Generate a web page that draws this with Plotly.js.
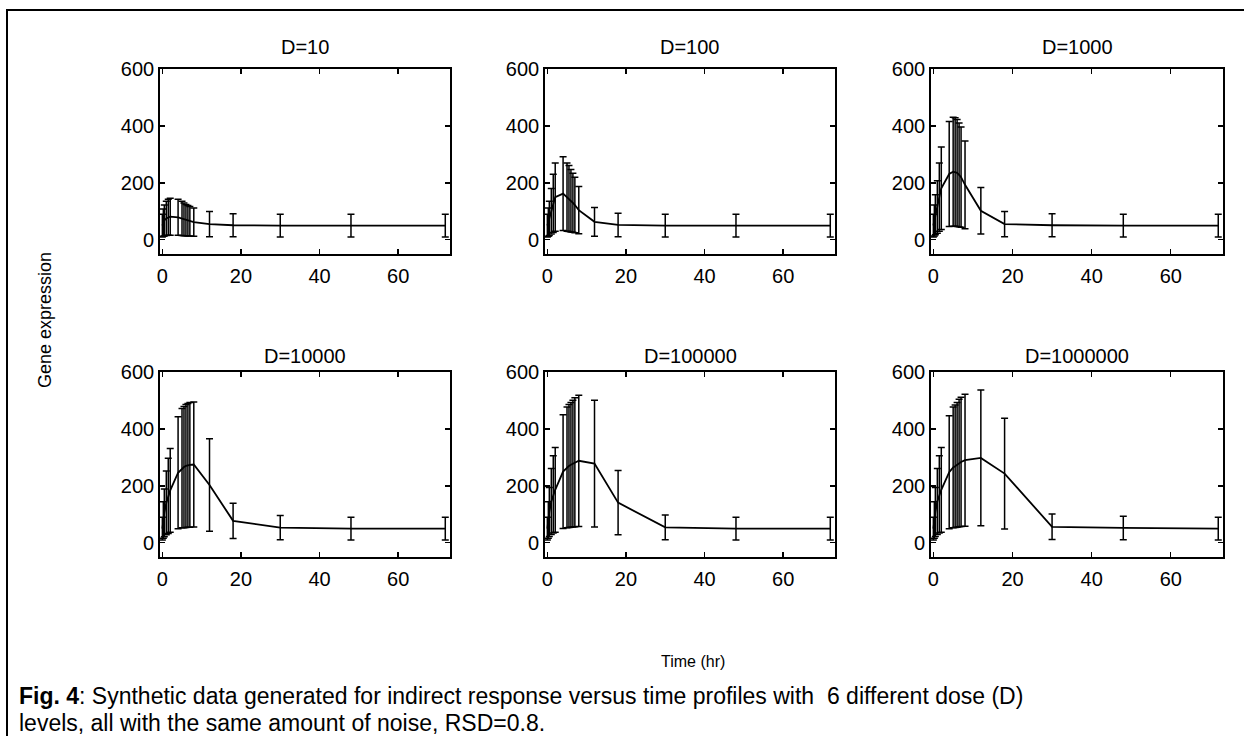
<!DOCTYPE html>
<html>
<head>
<meta charset="utf-8">
<script src="https://cdn.plot.ly/plotly-3.0.1.min.js"></script>
<style>
html,body{margin:0;padding:0;background:#fff;}
#chart{width:1244px;height:736px;}
</style>
</head>
<body>
<div id="chart"></div>
<script>
// Sampling times (hr)
const times = [0, 0.25, 0.5, 1, 1.5, 2, 4, 5, 5.5, 6, 6.5, 7, 8, 12, 18, 30, 48, 72];

// Dose labels
const doses = ["D=10", "D=100", "D=1000", "D=10000", "D=100000", "D=1000000"];

// Mean gene expression per dose
const d10      = [50, 60, 68, 75, 79, 81, 79, 75, 72, 69, 67, 65, 62, 55, 51, 50, 50, 50];
const d100     = [50, 62, 75, 100, 128, 150, 162, 150, 145, 137, 130, 122, 104, 63, 52, 50, 50, 50];
const d1000    = [50, 68, 88, 115, 150, 181, 231, 239, 238, 235, 228, 220, 193, 102, 55, 51, 50, 50];
const d10000   = [50, 80, 105, 140, 165, 184, 246, 262, 266, 270, 272, 274, 275, 203, 77, 53, 50, 50];
const d100000  = [50, 80, 108, 145, 170, 186, 250, 265, 270, 274, 278, 283, 288, 278, 141, 54, 50, 50];
const d1000000 = [50, 80, 108, 145, 170, 186, 248, 265, 269, 274, 280, 284, 290, 298, 243, 56, 52, 50];

// Relative standard deviation (percent) used for the error bars
const rsdPercent = 80;

// Tick labels
const xTicks = [0, 20, 40, 60];
const yTicks = [0, 200, 400, 600];

const series = [d10, d100, d1000, d10000, d100000, d1000000];

const W = 1244, H = 736;
const colPx = [[160, 450], [545, 835], [931, 1223]];
const rowPx = [[69, 254], [372, 557]];
const FONT = "Liberation Sans, Arial, Helvetica, sans-serif";

const data = [];
const layout = {
  width: W, height: H,
  margin: {l: 0, r: 0, t: 0, b: 0},
  paper_bgcolor: "#fff", plot_bgcolor: "#fff",
  showlegend: false,
  font: {family: FONT, color: "#000", size: 20},
  annotations: [],
  shapes: []
};

series.forEach((ys, i) => {
  const r = Math.floor(i / 3), c = i % 3;
  const n = i + 1;
  const xa = n === 1 ? "x" : "x" + n;
  const ya = n === 1 ? "y" : "y" + n;
  data.push({
    type: "scatter", mode: "lines",
    x: times, y: ys, xaxis: xa, yaxis: ya,
    line: {color: "#000", width: 1.8},
    error_y: {type: "percent", value: rsdPercent, color: "#000", thickness: 1.5, width: 3.5},
    hoverinfo: "skip"
  });
  const xd = [colPx[c][0] / W, colPx[c][1] / W];
  const yd = [1 - rowPx[r][1] / H, 1 - rowPx[r][0] / H];
  const common = {
    showgrid: false, zeroline: false, showline: true, linecolor: "#000", linewidth: 1.8,
    mirror: "ticks", ticks: "inside", ticklen: 5, tickwidth: 1.3, tickcolor: "#000",
    tickfont: {family: FONT, size: 20, color: "#000"}, fixedrange: true
  };
  layout["xaxis" + (n === 1 ? "" : n)] = Object.assign({}, common, {
    domain: xd, anchor: ya, range: [-0.6, 73.2], ticklabelstandoff: 3,
    tickmode: "array", tickvals: xTicks, ticktext: xTicks.map(String)
  });
  layout["yaxis" + (n === 1 ? "" : n)] = Object.assign({}, common, {
    domain: yd, anchor: xa, range: [-50, 600],
    tickmode: "array", tickvals: yTicks, ticktext: yTicks.map(String)
  });
  layout.annotations.push({
    xref: "paper", yref: "paper",
    x: (xd[0] + xd[1]) / 2, y: 1 - (r === 0 ? 47 : 356) / H,
    xanchor: "center", yanchor: "middle", showarrow: false,
    text: doses[i], font: {family: FONT, size: 20, color: "#000"}
  });
});

layout.annotations.push({
  xref: "paper", yref: "paper", x: 45 / W, y: 1 - 320 / H,
  xanchor: "center", yanchor: "middle", showarrow: false, textangle: -90,
  text: "Gene expression", font: {family: FONT, size: 18, color: "#000"}
});
layout.annotations.push({
  xref: "paper", yref: "paper", x: 693 / W, y: 1 - 661 / H,
  xanchor: "center", yanchor: "middle", showarrow: false,
  text: "Time (hr)", font: {family: FONT, size: 16, color: "#000"}
});
layout.annotations.push({
  xref: "paper", yref: "paper", x: 17 / W, y: 1 - 696 / H,
  xanchor: "left", yanchor: "middle", showarrow: false,
  text: "<b>Fig. 4</b>: Synthetic data generated for indirect response versus time profiles with\u00A0 6 different dose (D)",
  font: {family: FONT, size: 23, color: "#000"}
});
layout.annotations.push({
  xref: "paper", yref: "paper", x: 17 / W, y: 1 - 723 / H,
  xanchor: "left", yanchor: "middle", showarrow: false,
  text: "levels, all with the same amount of noise, RSD=0.8.",
  font: {family: FONT, size: 23, color: "#000"}
});

// Outer frame (left and top edges visible)
layout.shapes.push({
  type: "rect", xref: "paper", yref: "paper",
  x0: 7 / W, x1: 1.01, y0: -0.01, y1: 1 - 10 / H,
  line: {color: "#000", width: 2}, fillcolor: "rgba(0,0,0,0)", layer: "above"
});

Plotly.newPlot("chart", data, layout, {staticPlot: true, displayModeBar: false});
</script>
</body>
</html>
